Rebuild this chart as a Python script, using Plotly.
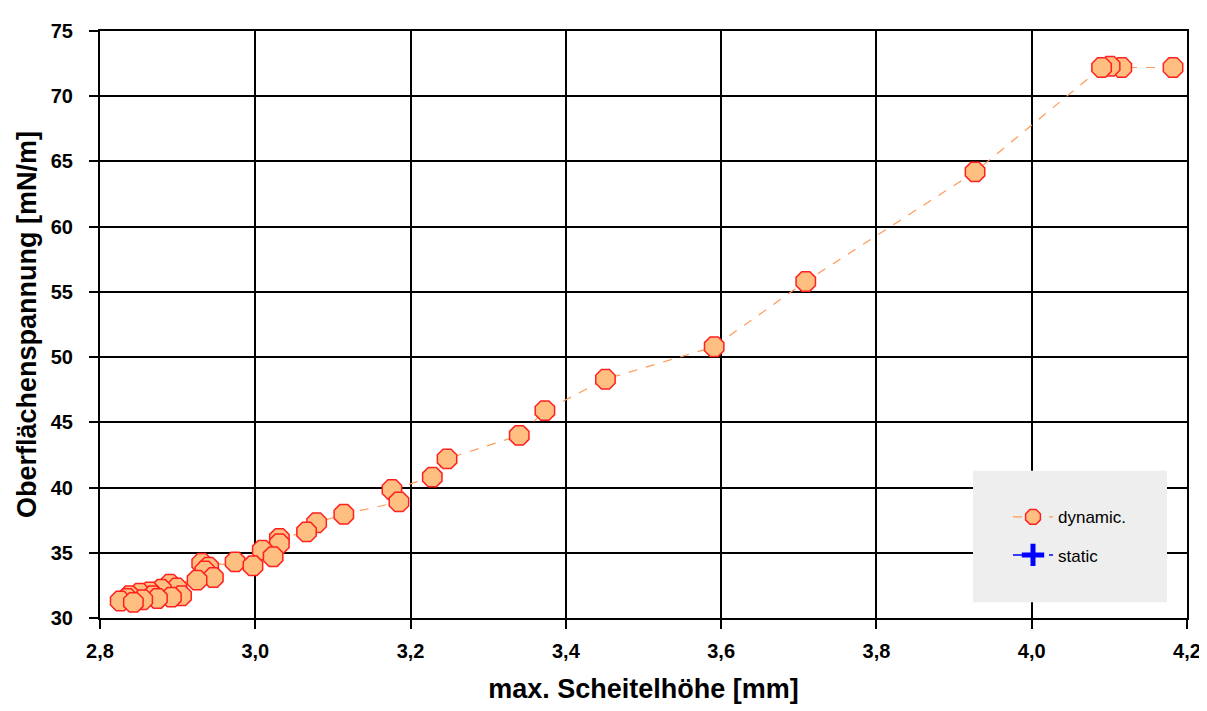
import plotly.graph_objects as go

# Dynamic series: max. Scheitelhöhe [mm] vs. Oberflächenspannung [mN/m]
dyn_x = [4.182, 4.116, 4.101, 4.090, 3.927, 3.709, 3.591, 3.451, 3.373, 3.340,
         3.247, 3.228, 3.176, 3.185, 3.114, 3.079, 3.066, 3.031, 3.031, 3.009,
         3.023, 2.974, 2.997, 2.931, 2.940, 2.935, 2.946, 2.925, 2.890, 2.899,
         2.879, 2.864, 2.851, 2.905, 2.892, 2.868, 2.838, 2.874, 2.855, 2.835,
         2.826, 2.843]
dyn_y = [72.2, 72.2, 72.3, 72.2, 64.2, 55.8, 50.8, 48.3, 45.9, 44.0,
         42.2, 40.8, 39.85, 38.9, 37.95, 37.3, 36.6, 36.1, 35.7, 35.2,
         34.7, 34.3, 34.0, 34.2, 33.9, 33.6, 33.1, 32.9, 32.6, 32.3,
         32.2, 32.0, 31.9, 31.7, 31.6, 31.7, 31.7, 31.5, 31.4, 31.5,
         31.3, 31.2]

# Static series (legend only, no visible points)
stat_x = [None]
stat_y = [None]

x_ticks = [2.8, 3.0, 3.2, 3.4, 3.6, 3.8, 4.0, 4.2]
y_ticks = [30, 35, 40, 45, 50, 55, 60, 65, 70, 75]

FONT = "Liberation Sans"

fig = go.Figure()
fig.add_trace(go.Scatter(
    x=dyn_x, y=dyn_y, mode="lines+markers", name="dynamic.", legendgroup="dyn",
    line=dict(color="#ff9955", width=1.2, dash="dash"),
    marker=dict(symbol="octagon", size=21, color="#ffbf80",
                line=dict(color="#ff2020", width=1.5)),
))
fig.add_trace(go.Scatter(
    x=stat_x, y=stat_y, mode="lines+markers", name="static", legendgroup="stat",
    line=dict(color="#0000ff", width=1.5, dash="dash"),
    marker=dict(symbol="cross-thin", size=16, color="#0000ff",
                line=dict(color="#0000ff", width=5)),
))

# legend background box
fig.add_shape(type="rect", xref="paper", yref="paper",
              x0=(973 - 100) / 1087, x1=(1167 - 100) / 1087,
              y0=(618 - 602) / 598, y1=(618 - 468) / 598,
              fillcolor="#eeeeee", line=dict(width=0), layer="above")

fig.update_layout(
    width=1207, height=711,
    margin=dict(l=92, r=28, t=12, b=101),
    paper_bgcolor="white", plot_bgcolor="white",
    separators=",.",
    showlegend=True,
    legend=dict(x=(1008 - 100) / 1087, y=(618 - 497) / 598,
                xanchor="left", yanchor="top",
                bgcolor="rgba(0,0,0,0)", borderwidth=0,
                font=dict(family=FONT, size=17, color="#000000"),
                tracegroupgap=13, itemwidth=40),
    xaxis=dict(
        range=[2.8, 4.2], tickvals=x_ticks, tickformat=".1f",
        showgrid=True, gridcolor="#000000", gridwidth=2,
        showline=True, linecolor="#000000", linewidth=2, mirror=True,
        ticks="outside", ticklen=9, tickwidth=2, tickcolor="#000000",
        ticklabelstandoff=5,
        tickfont=dict(family=FONT, size=20, color="#000000", weight="bold"),
        title=dict(text="max. Scheitelhöhe [mm]", standoff=18,
                   font=dict(family=FONT, size=27, color="#000000", weight="bold")),
        zeroline=False,
    ),
    yaxis=dict(
        range=[30, 75], tickvals=y_ticks,
        showgrid=True, gridcolor="#000000", gridwidth=2,
        showline=True, linecolor="#000000", linewidth=2, mirror=True,
        ticks="outside", ticklen=9, tickwidth=2, tickcolor="#000000",
        ticklabelstandoff=12,
        tickfont=dict(family=FONT, size=20, color="#000000", weight="bold"),
        title=dict(text="Oberflächenspannung [mN/m]", standoff=6,
                   font=dict(family=FONT, size=27, color="#000000", weight="bold")),
        zeroline=False,
    ),
)

fig.write_html("out.html")
